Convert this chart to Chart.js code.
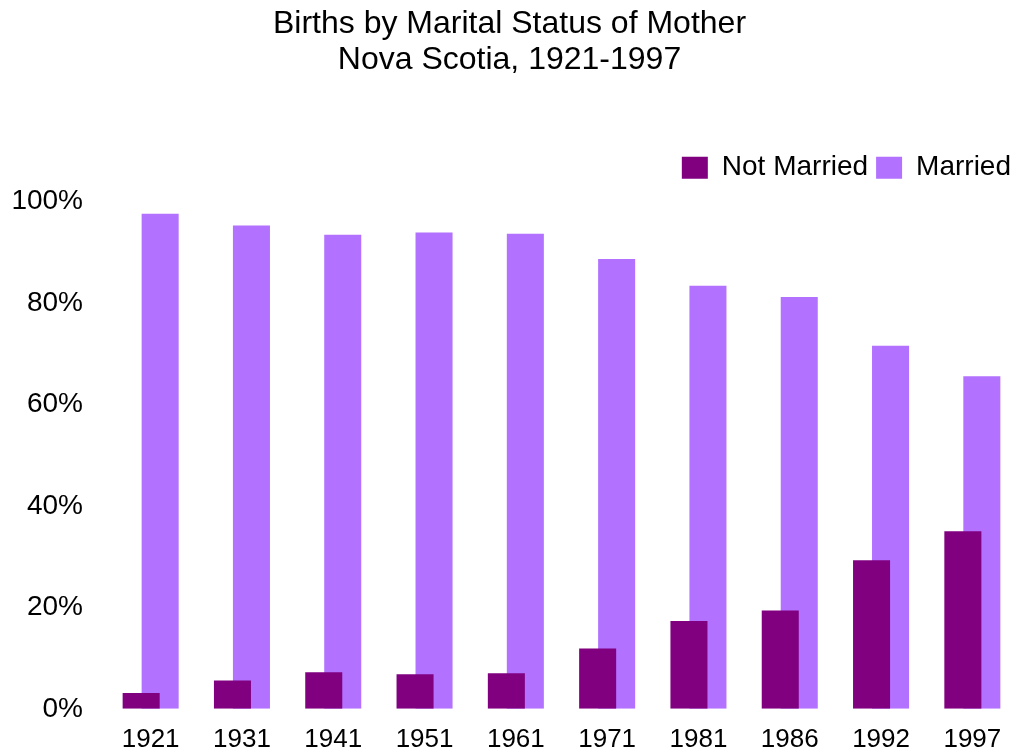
<!DOCTYPE html>
<html>
<head>
<meta charset="utf-8">
<script src="https://cdn.jsdelivr.net/npm/chart.js@4.4.1/dist/chart.umd.min.js"></script>
<style>
  html, body { margin: 0; padding: 0; background: #fff; }
  #wrap { width: 1018px; height: 753px; position: relative; }
</style>
</head>
<body>
<div id="wrap"><canvas id="myChart"></canvas></div>
<script>
const years = ['1921', '1931', '1941', '1951', '1961', '1971', '1981', '1986', '1992', '1997'];
const notMarried = [3.1, 5.6, 7.2, 6.8, 7.0, 11.9, 17.3, 19.4, 29.3, 35.0];
const married = [97.6, 95.3, 93.5, 93.9, 93.7, 88.7, 83.4, 81.2, 71.6, 65.6];
const yTicks = [0, 20, 40, 60, 80, 100];

const FONT = 'Liberation Sans, Arial, sans-serif';
Chart.defaults.font.family = FONT;
Chart.defaults.color = '#000';

// extra room under the legend
const legendGap = {
    id: 'legendGap',
    beforeInit(chart) {
        const fit = chart.legend.fit;
        chart.legend.fit = function () {
            fit.bind(chart.legend)();
            this.height += 10;
        };
    }
};

const ctx = document.getElementById('myChart');
new Chart(ctx, {
    type: 'bar',
    data: {
        labels: years,
        datasets: [{
            label: 'Not Married',
            data: notMarried,
            backgroundColor: '#800080',
            borderWidth: 0,
            categoryPercentage: 0.416,
            barPercentage: 1.95,
        }, {
            label: 'Married',
            data: married,
            backgroundColor: 'rgb(179, 113, 255)',
            borderWidth: 0,
            categoryPercentage: 0.416,
            barPercentage: 1.95,
        }],
    },
    options: {
        responsive: true,
        maintainAspectRatio: false,
        animation: false,
        layout: {
            padding: { left: 0, right: -1, top: 6, bottom: -9 }
        },
        plugins: {
            title: {
                display: true,
                text: ['Births by Marital Status of Mother', 'Nova Scotia, 1921-1997'],
                font: { size: 32, weight: 'normal', lineHeight: 1.12 },
                color: '#000',
                padding: { top: 0, bottom: 68 },
            },
            legend: {
                position: 'top',
                align: 'end',
                labels: {
                    boxWidth: 26,
                    boxHeight: 22,
                    padding: 8,
                    font: { size: 28 },
                    color: '#000',
                },
            },
            tooltip: { enabled: false },
        },
        scales: {
            x: {
                grid: { display: false },
                border: { display: false },
                ticks: { font: { size: 26 }, color: '#000', padding: 7, maxRotation: 0 },
            },
            y: {
                min: 0,
                max: 100,
                afterBuildTicks: axis => { axis.ticks = yTicks.map(v => ({ value: v })); },
                afterFit: axis => { axis.width = 105; },
                grid: { display: false },
                border: { display: false },
                ticks: {
                    font: { size: 28 },
                    color: '#000',
                    padding: 14,
                    callback: v => v + '%',
                },
            },
        },
    },
    plugins: [legendGap],
});
</script>
</body>
</html>
